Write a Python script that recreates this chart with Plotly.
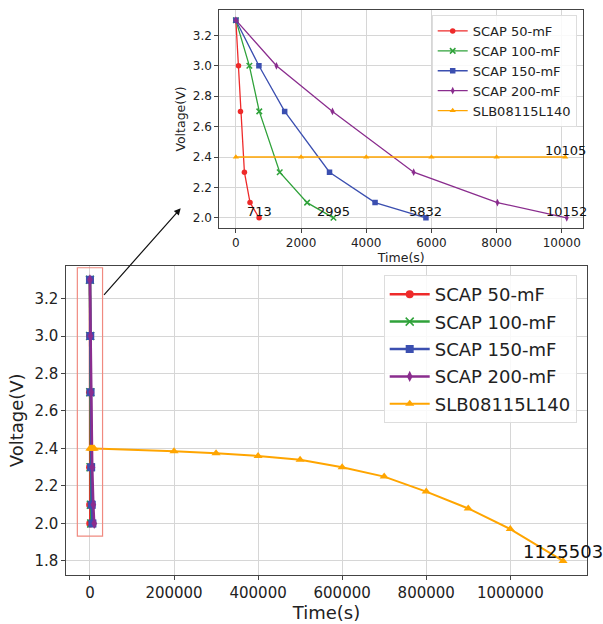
import plotly.graph_objects as go

# ---------------- data ----------------
volt_scap = [3.3, 3.0, 2.7, 2.3, 2.1, 2.0]
t_scap50 = [0, 81, 142, 263, 435, 713]
t_scap100 = [0, 415, 719, 1346, 2186, 2995]
t_scap150 = [0, 708, 1498, 2874, 4271, 5832]
t_scap200 = [0, 1245, 2965, 5455, 8025, 10152]

t_slb_short = [0, 2000, 4000, 6000, 8000, 10105]
v_slb_short = [2.4, 2.4, 2.4, 2.4, 2.4, 2.4]
t_slb_long = [200000, 300000, 400000, 500000, 600000, 700000, 800000, 900000, 1000000, 1125503]
v_slb_long = [2.385, 2.375, 2.36, 2.34, 2.30, 2.25, 2.17, 2.08, 1.97, 1.80]

series_names = ["SCAP 50-mF", "SCAP 100-mF", "SCAP 150-mF", "SCAP 200-mF", "SLB08115L140"]
main_x_ticks = [0, 200000, 400000, 600000, 800000, 1000000]
main_y_ticks = [1.8, 2.0, 2.2, 2.4, 2.6, 2.8, 3.0, 3.2]
inset_x_ticks = [0, 2000, 4000, 6000, 8000, 10000]
inset_y_ticks = [2.0, 2.2, 2.4, 2.6, 2.8, 3.0, 3.2]
zoom_box_x = [-30000, 30000]
zoom_box_y = [1.932, 3.364]

# ---------------- style ----------------
colors = ["#ee2a2a", "#2fa23a", "#3b4fb0", "#8a2d8e", "#ffa500"]
symbols = ["circle", "x-thin-open", "square", "diamond-tall", "triangle-up"]
FONT = "DejaVu Sans"
W, H = 603, 624

scap_t = [t_scap50, t_scap100, t_scap150, t_scap200]
slb_t_all = t_slb_short + t_slb_long
slb_v_all = v_slb_short + v_slb_long


def padded(lo, hi, m=0.05):
    d = hi - lo
    return [lo - m * d, hi + m * d]


fig = go.Figure()


def marker(i, size):
    if symbols[i] == "x-thin-open":
        return dict(symbol=symbols[i], size=size, color=colors[i],
                     line=dict(color=colors[i], width=1.5))
    return dict(symbol=symbols[i], size=size, color=colors[i],
                 line=dict(width=0))


# main axes traces
for i, tt in enumerate(scap_t):
    fig.add_trace(go.Scatter(x=tt, y=volt_scap, mode="lines+markers", name=series_names[i],
                             line=dict(color=colors[i], width=2.5), marker=marker(i, 8),
                             xaxis="x", yaxis="y", legend="legend", legendgroup="m%d" % i))
fig.add_trace(go.Scatter(x=slb_t_all, y=slb_v_all, mode="lines+markers", name=series_names[4],
                         line=dict(color=colors[4], width=2), marker=marker(4, 8),
                         xaxis="x", yaxis="y", legend="legend", legendgroup="m4"))

# inset traces
for i, tt in enumerate(scap_t):
    fig.add_trace(go.Scatter(x=tt, y=volt_scap, mode="lines+markers", name=series_names[i],
                             line=dict(color=colors[i], width=1.3), marker=marker(i, 5.5),
                             xaxis="x2", yaxis="y2", legend="legend2"))
fig.add_trace(go.Scatter(x=t_slb_short, y=v_slb_short, mode="lines+markers", name=series_names[4],
                         line=dict(color=colors[4], width=1.3), marker=marker(4, 5.5),
                         xaxis="x2", yaxis="y2", legend="legend2"))

# end-point annotations
ann = []
for tt in scap_t:
    ann.append(dict(x=tt[-1], y=volt_scap[-1], xref="x2", yref="y2", text=str(tt[-1]),
                    showarrow=False, xanchor="center", yanchor="bottom", yshift=-3,
                    font=dict(family=FONT, size=13, color="#111")))
ann.append(dict(x=t_slb_short[-1], y=v_slb_short[-1], xref="x2", yref="y2", text=str(t_slb_short[-1]),
                showarrow=False, xanchor="center", yanchor="bottom", yshift=-3,
                font=dict(family=FONT, size=13, color="#111")))
ann.append(dict(x=t_slb_long[-1], y=v_slb_long[-1], xref="x", yref="y", text=str(t_slb_long[-1]),
                showarrow=False, xanchor="center", yanchor="bottom", yshift=-3,
                font=dict(family=FONT, size=18, color="#111")))
# arrow from zoom box to inset
ann.append(dict(x=180.7 / W, y=1 - 208.3 / H, xref="paper", yref="paper", text="",
                showarrow=True, ax=-78, ay=88, arrowhead=2, arrowsize=1.1, arrowwidth=1.2,
                arrowcolor="#111"))

axis_common = dict(showline=True, mirror=True, linecolor="#444", linewidth=1,
                   ticks="outside", ticklen=4, tickcolor="#444",
                   showgrid=True, gridcolor="#d6d6d6", gridwidth=1, zeroline=False)

x_main = padded(0, max(slb_t_all))
y_main = padded(min(slb_v_all), max(volt_scap))
x_in = padded(0, max(t_scap200))
y_in = padded(min(volt_scap), max(volt_scap))

fig.update_layout(
    width=W, height=H, margin=dict(l=0, r=0, t=0, b=0),
    paper_bgcolor="white", plot_bgcolor="white",
    font=dict(family=FONT, color="#222"),
    xaxis=dict(domain=[66.3 / W, 586.7 / W], range=x_main, tickvals=main_x_ticks, tickformat="d",
               tickfont=dict(size=15), title=dict(text="Time(s)", font=dict(size=18), standoff=4),
               anchor="y", **axis_common),
    yaxis=dict(domain=[1 - 575 / H, 1 - 265.7 / H], range=y_main, tickvals=main_y_ticks, tickformat=".1f",
               tickfont=dict(size=15), title=dict(text="Voltage(V)", font=dict(size=18), standoff=6),
               anchor="x", **axis_common),
    xaxis2=dict(domain=[219.3 / W, 583.3 / W], range=x_in, tickvals=inset_x_ticks, tickformat="d",
                tickfont=dict(size=12), title=dict(text="Time(s)", font=dict(size=12.5), standoff=2),
                anchor="y2", **axis_common),
    yaxis2=dict(domain=[1 - 227.7 / H, 1 - 10.3 / H], range=y_in, tickvals=inset_y_ticks, tickformat=".1f",
                tickfont=dict(size=12), title=dict(text="Voltage(V)", font=dict(size=12.5), standoff=4),
                anchor="x2", **axis_common),
    legend=dict(x=576.7 / W, y=1 - 275 / H, xanchor="right", yanchor="top",
                bgcolor="rgba(255,255,255,0.85)", bordercolor="#dddddd", borderwidth=1,
                font=dict(size=18, color="#222"), itemwidth=40, tracegroupgap=1),
    legend2=dict(x=576.7 / W, y=1 - 15 / H, xanchor="right", yanchor="top",
                 bgcolor="rgba(255,255,255,0.85)", bordercolor="#dddddd", borderwidth=1,
                 font=dict(size=13, color="#222"), itemwidth=30),
    shapes=[dict(type="rect", xref="x", yref="y", x0=zoom_box_x[0], x1=zoom_box_x[1],
                 y0=zoom_box_y[0], y1=zoom_box_y[1], line=dict(color="#f08a80", width=1.2),
                 fillcolor="rgba(0,0,0,0)")],
    annotations=ann,
    showlegend=True,
)

fig.write_html("out.html")
